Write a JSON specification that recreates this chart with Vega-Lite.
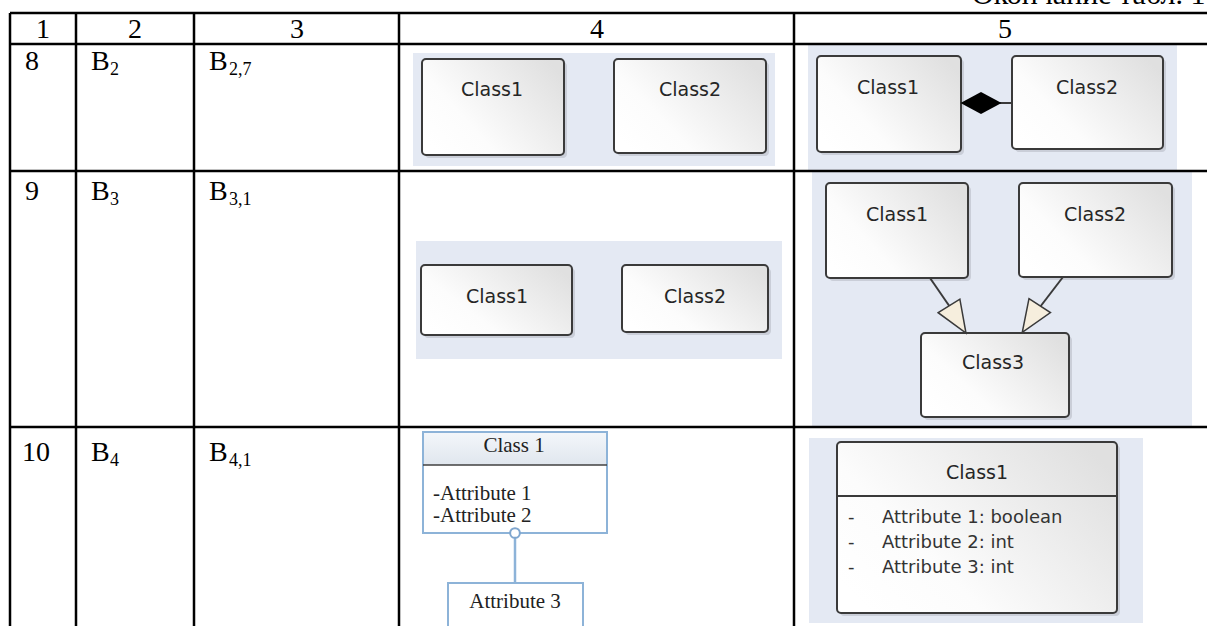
{
"$schema":"https://vega.github.io/schema/vega-lite/v6.json",
"width":1207,"height":626,"padding":0,"autosize":{"type":"none"},
"background":"white",
"config":{"view":{"stroke":null}},
"encoding":{
 "x":{"field":"x","type":"quantitative","scale":{"domain":[0,1207],"nice":false,"zero":false},"axis":null},
 "y":{"field":"y","type":"quantitative","scale":{"domain":[0,626],"nice":false,"zero":false,"reverse":true},"axis":null}
},
"datasets":{
 "bg":[{"x":413,"x2":775,"y":53,"y2":166},{"x":416,"x2":782,"y":241,"y2":359},{"x":808,"x2":1177,"y":45,"y2":170},{"x":812,"x2":1192,"y":172,"y2":426},{"x":809,"x2":1143,"y":438,"y2":623}],
 "boxes":[{"x":422,"x2":564,"y":59,"y2":155},{"x":614,"x2":766,"y":59,"y2":153},{"x":421,"x2":572,"y":265,"y2":335},{"x":622,"x2":768,"y":265,"y2":332},{"x":817,"x2":961,"y":56,"y2":152},{"x":1012,"x2":1163,"y":56,"y2":149},{"x":826,"x2":968,"y":183,"y2":278},{"x":1019,"x2":1172,"y":183,"y2":277},{"x":921,"x2":1069,"y":333,"y2":417},{"x":837,"x2":1117,"y":442,"y2":613}],
 "darkLines":[{"x":837,"x2":1117,"y":496,"y2":496},{"x":1000,"x2":1012,"y":103,"y2":103},{"x":930,"x2":950,"y":278,"y2":307},{"x":1063,"x2":1040,"y":277,"y2":307}],
 "diamond":[{"x":981,"y":103}],
 "triLeft":[{"x":957.5,"y":319.5}],
 "triRight":[{"x":1031,"y":319}],
 "umlBoxes":[{"x":423,"x2":607,"y":432,"y2":533},{"x":448,"x2":583,"y":583,"y2":640}],
 "umlHeader":[{"x":424,"x2":606,"y":433,"y2":465}],
 "umlDivider":[{"x":423,"x2":607,"y":465,"y2":465}],
 "umlConnector":[{"x":515,"x2":515,"y":538,"y2":583}],
 "umlCircle":[{"x":515,"y":533}],
 "tableLines":[{"x":10,"x2":1207,"y":13,"y2":13},{"x":10,"x2":1207,"y":44,"y2":44},{"x":10,"x2":1207,"y":171,"y2":171},{"x":10,"x2":1207,"y":427,"y2":427},{"x":10,"x2":10,"y":13,"y2":626},{"x":76,"x2":76,"y":13,"y2":626},{"x":194,"x2":194,"y":13,"y2":626},{"x":399,"x2":399,"y":13,"y2":626},{"x":794,"x2":794,"y":13,"y2":626}],
 "cellText":[{"x":25,"y":70,"t":"8"},{"x":91,"y":70,"t":"B"},{"x":209,"y":70,"t":"B"},{"x":25,"y":200,"t":"9"},{"x":91,"y":200,"t":"B"},{"x":209,"y":200,"t":"B"},{"x":22,"y":461,"t":"10"},{"x":91,"y":461,"t":"B"},{"x":209,"y":461,"t":"B"}],
 "subText":[{"x":110,"y":75,"t":"2"},{"x":229,"y":75,"t":"2,7"},{"x":110,"y":205,"t":"3"},{"x":229,"y":205,"t":"3,1"},{"x":110,"y":466,"t":"4"},{"x":229,"y":466,"t":"4,1"}],
 "headText":[{"x":43,"y":38,"t":"1"},{"x":135,"y":38,"t":"2"},{"x":297,"y":38,"t":"3"},{"x":597,"y":38,"t":"4"},{"x":1005,"y":38,"t":"5"}],
 "title":[{"x":972,"y":4,"t":"Окончание табл. 1"}],
 "eaLabels":[{"x":492,"y":90,"t":"Class1"},{"x":690,"y":90,"t":"Class2"},{"x":497,"y":297,"t":"Class1"},{"x":695,"y":297,"t":"Class2"},{"x":888,"y":88,"t":"Class1"},{"x":1087,"y":88,"t":"Class2"},{"x":897,"y":215,"t":"Class1"},{"x":1095,"y":215,"t":"Class2"},{"x":993,"y":363,"t":"Class3"},{"x":977,"y":473,"t":"Class1"}],
 "eaAttrs":[{"x":848,"y":518,"t":"-"},{"x":882,"y":518,"t":"Attribute 1: boolean"},{"x":848,"y":543,"t":"-"},{"x":882,"y":543,"t":"Attribute 2: int"},{"x":848,"y":568,"t":"-"},{"x":882,"y":568,"t":"Attribute 3: int"}],
 "umlCenter":[{"x":514,"y":452,"t":"Class 1"},{"x":515,"y":608,"t":"Attribute 3"}],
 "umlLeft":[{"x":433,"y":500,"t":"-Attribute 1"},{"x":433,"y":522,"t":"-Attribute 2"}]
},
"layer":[
 {"data":{"name":"bg"},"mark":{"type":"rect","color":"#e4e9f3"},"encoding":{"x2":{"field":"x2"},"y2":{"field":"y2"}}},
 {"data":{"name":"boxes"},"mark":{"type":"rect","cornerRadius":4,"color":"#9a9ea6","opacity":0.35,"xOffset":3,"x2Offset":3,"yOffset":3,"y2Offset":3},"encoding":{"x2":{"field":"x2"},"y2":{"field":"y2"}}},
 {"data":{"name":"boxes"},"mark":{"type":"rect","cornerRadius":4,"fill":{"gradient":"linear","x1":0,"y1":0.8,"x2":1,"y2":0.2,"stops":[{"offset":0,"color":"#ffffff"},{"offset":0.3,"color":"#fcfcfc"},{"offset":1,"color":"#e0e0e0"}]},"stroke":"#3a3a3a","strokeWidth":2},"encoding":{"x2":{"field":"x2"},"y2":{"field":"y2"}}},
 {"data":{"name":"darkLines"},"mark":{"type":"rule","color":"#3a3a3a","strokeWidth":2},"encoding":{"x2":{"field":"x2"},"y2":{"field":"y2"}}},
 {"data":{"name":"diamond"},"mark":{"type":"point","shape":"M-1,0L0,-0.54L1,0L0,0.54Z","filled":true,"color":"#000000","opacity":1,"size":1681}},
 {"data":{"name":"triLeft"},"mark":{"type":"point","shape":"M-0.8,-1L0.8,-1L0,1Z","filled":true,"fill":"#f6eedd","stroke":"#3a3a3a","strokeWidth":1.5,"opacity":1,"size":1024,"angle":-32}},
 {"data":{"name":"triRight"},"mark":{"type":"point","shape":"M-0.8,-1L0.8,-1L0,1Z","filled":true,"fill":"#f6eedd","stroke":"#3a3a3a","strokeWidth":1.5,"opacity":1,"size":1024,"angle":33}},
 {"data":{"name":"umlBoxes"},"mark":{"type":"rect","fill":"#ffffff","stroke":"#8db3d8","strokeWidth":2},"encoding":{"x2":{"field":"x2"},"y2":{"field":"y2"}}},
 {"data":{"name":"umlHeader"},"mark":{"type":"rect","fill":{"gradient":"linear","x1":0,"y1":0,"x2":0,"y2":1,"stops":[{"offset":0,"color":"#f3f6fa"},{"offset":1,"color":"#e0e6ee"}]}},"encoding":{"x2":{"field":"x2"},"y2":{"field":"y2"}}},
 {"data":{"name":"umlDivider"},"mark":{"type":"rule","color":"#404040","strokeWidth":1.5},"encoding":{"x2":{"field":"x2"},"y2":{"field":"y2"}}},
 {"data":{"name":"umlConnector"},"mark":{"type":"rule","color":"#8db3d8","strokeWidth":2.5},"encoding":{"x2":{"field":"x2"},"y2":{"field":"y2"}}},
 {"data":{"name":"umlCircle"},"mark":{"type":"point","shape":"circle","filled":true,"fill":"#ffffff","stroke":"#7fa6cf","strokeWidth":2,"opacity":1,"size":95}},
 {"data":{"name":"tableLines"},"mark":{"type":"rule","color":"#000000","strokeWidth":2.5},"encoding":{"x2":{"field":"x2"},"y2":{"field":"y2"}}},
 {"data":{"name":"cellText"},"mark":{"type":"text","font":"Liberation Serif","fontSize":28,"align":"left","baseline":"alphabetic","color":"#000000"},"encoding":{"text":{"field":"t"}}},
 {"data":{"name":"subText"},"mark":{"type":"text","font":"Liberation Serif","fontSize":18,"align":"left","baseline":"alphabetic","color":"#000000"},"encoding":{"text":{"field":"t"}}},
 {"data":{"name":"headText"},"mark":{"type":"text","font":"Liberation Serif","fontSize":28,"align":"center","baseline":"alphabetic","color":"#000000"},"encoding":{"text":{"field":"t"}}},
 {"data":{"name":"title"},"mark":{"type":"text","font":"Liberation Serif","fontSize":30,"align":"left","baseline":"alphabetic","color":"#000000"},"encoding":{"text":{"field":"t"}}},
 {"data":{"name":"eaLabels"},"mark":{"type":"text","font":"DejaVu Sans","fontSize":19,"align":"center","baseline":"middle","color":"#262626"},"encoding":{"text":{"field":"t"}}},
 {"data":{"name":"eaAttrs"},"mark":{"type":"text","font":"DejaVu Sans","fontSize":18,"align":"left","baseline":"middle","color":"#333333"},"encoding":{"text":{"field":"t"}}},
 {"data":{"name":"umlCenter"},"mark":{"type":"text","font":"Liberation Serif","fontSize":21,"align":"center","baseline":"alphabetic","color":"#222222"},"encoding":{"text":{"field":"t"}}},
 {"data":{"name":"umlLeft"},"mark":{"type":"text","font":"Liberation Serif","fontSize":21,"align":"left","baseline":"alphabetic","color":"#222222"},"encoding":{"text":{"field":"t"}}}
]
}
